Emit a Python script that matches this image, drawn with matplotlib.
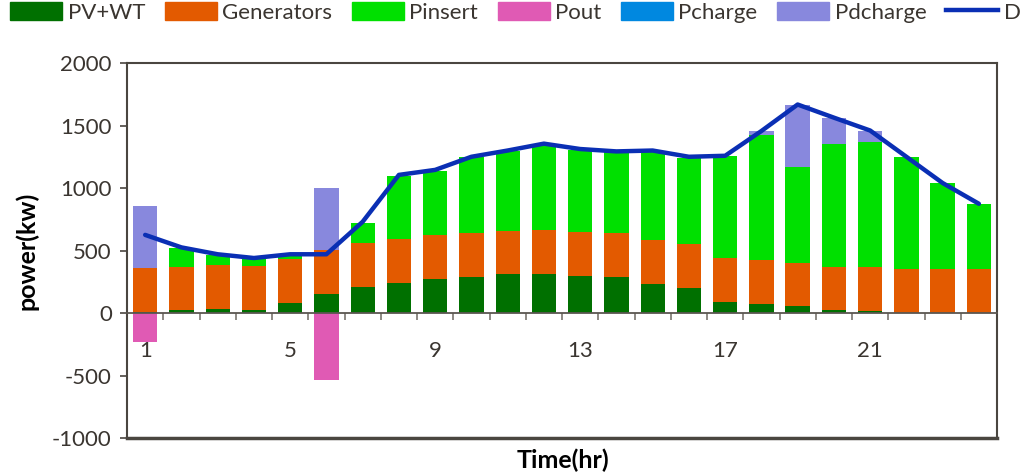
import numpy as np
import matplotlib
matplotlib.use("Agg")
import matplotlib.pyplot as plt
from matplotlib.lines import Line2D
from matplotlib.patches import Patch

plt.rcParams['font.family'] = ['Lato', 'DejaVu Sans']
plt.rcParams['axes.unicode_minus'] = False

hours = list(range(1, 25))
pv_wt = [10, 21, 29, 21, 80, 149, 205, 237, 269, 285, 309, 309,
         293, 290, 229, 200, 85, 72, 53, 21, 16, 0, 0, 0]
generators = [350, 347, 352, 352, 352, 352, 352, 352, 352, 352, 347, 352,
              352, 350, 352, 352, 352, 349, 349, 349, 349, 352, 352, 355]
pinsert = [0, 152, 86, 67, 30, 0, 165, 507, 515, 608, 637, 680,
           661, 645, 704, 690, 819, 1000, 763, 982, 1000, 896, 688, 519]
pout = [-235, 0, 0, 0, 0, -533, 0, 0, 0, 0, 0, 0,
        0, 0, 0, 0, 0, 0, 0, 0, 0, 0, 0, 0]
pcharge = [0] * 24
pdcharge = [500, 0, 0, 0, 0, 500, 0, 0, 0, 0, 0, 0,
            0, 0, 0, 0, 0, 35, 499, 208, 93, 0, 0, 0]
demand = [625, 525, 470, 440, 470, 470, 730, 1105, 1145, 1250, 1300, 1355,
          1312, 1293, 1300, 1250, 1258, 1456, 1668, 1563, 1460, 1250, 1040, 874]

xtick_labels = ['1', '5', '9', '13', '17', '21']
xtick_pos = [1, 5, 9, 13, 17, 21]

c_pv = '#007000'
c_gen = '#e35a00'
c_ins = '#00e000'
c_out = '#e05ab4'
c_chg = '#0088e0'
c_dch = '#8888dd'
c_d = '#0a2fb4'
txt = '#3a3530'
spc = '#4a4640'

fig = plt.figure(figsize=(10.27, 4.76), dpi=100)
ax = fig.add_axes([0.1237, 0.0798, 0.8471, 0.7878])

x = np.array(hours)
w = 0.67
pv = np.array(pv_wt)
gen = np.array(generators)
ins = np.array(pinsert)
dch = np.array(pdcharge)

ax.bar(x, pv, w, color=c_pv, zorder=2)
ax.bar(x, gen, w, bottom=pv, color=c_gen, zorder=2)
ax.bar(x, ins, w, bottom=pv + gen, color=c_ins, zorder=2)
ax.bar(x, pout, w, color=c_out, zorder=2)
ax.bar(x, pcharge, w, color=c_chg, zorder=2)
ax.bar(x, dch, w, bottom=pv + gen + ins, color=c_dch, zorder=2)
ax.plot(x, demand, color=c_d, lw=3.2, zorder=3, solid_capstyle='round')

ax.set_xlim(0.5, 24.5)
ax.set_ylim(-1000, 2000)
ax.set_yticks(np.arange(-1000, 2001, 500))
ax.tick_params(axis='y', direction='out', length=5, width=1.2, color=spc,
               labelsize=16, labelcolor=txt, pad=6)

ax.spines['bottom'].set_position(('data', 0))
ax.spines['bottom'].set_color('#5a5650')
ax.spines['bottom'].set_linewidth(1.3)
for s in ['left', 'right', 'top']:
    ax.spines[s].set_color(spc)
    ax.spines[s].set_linewidth(1.5)
ax.axhline(-1000, color=spc, lw=2.5, clip_on=False, zorder=4)

ax.set_xticks(xtick_pos)
ax.set_xticklabels(xtick_labels)
ax.set_xticks(np.arange(0.5, 25, 1), minor=True)
ax.tick_params(axis='x', which='major', length=0, labelsize=16,
               labelcolor=txt, pad=20)
ax.tick_params(axis='x', which='minor', direction='out', length=5,
               width=1.2, color='#7a7670')

ax.set_ylabel('power(kw)', fontsize=18, fontweight='bold', color='black', labelpad=10)
fig.text(0.548, 0.034, 'Time(hr)', fontsize=18, fontweight='bold',
         ha='center', va='center')

handles = [Patch(color=c_pv), Patch(color=c_gen), Patch(color=c_ins),
           Patch(color=c_out), Patch(color=c_chg), Patch(color=c_dch),
           Line2D([0], [0], color=c_d, lw=3.2)]
labels = ['PV+WT', 'Generators', 'Pinsert', 'Pout', 'Pcharge', 'Pdcharge', 'D']
leg = fig.legend(handles, labels, loc='upper left',
                 bbox_to_anchor=(10 / 1027, 1 - 2 / 476),
                 ncol=7, frameon=False, fontsize=16, handlelength=2.34,
                 handleheight=0.85, handletextpad=0.25, columnspacing=0.88,
                 borderpad=0, borderaxespad=0)
for t in leg.get_texts():
    t.set_color(txt)

fig.savefig('out.png', dpi=100)
